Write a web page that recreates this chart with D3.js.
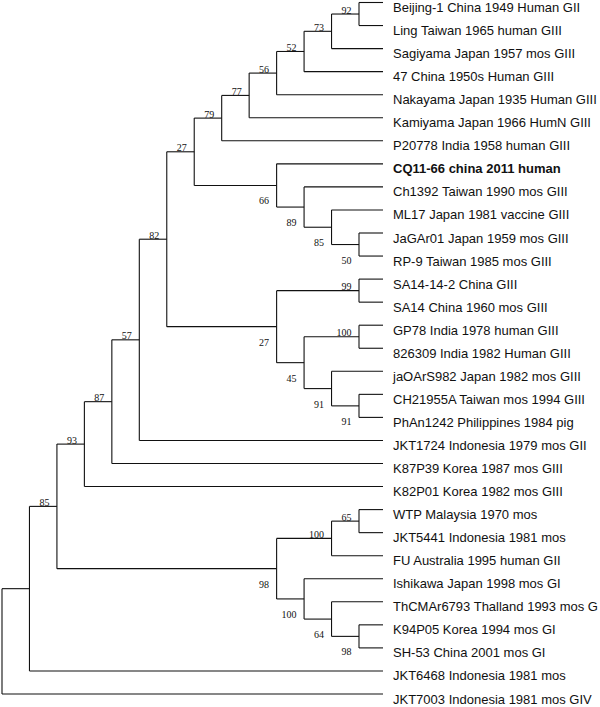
<!DOCTYPE html>
<html>
<head>
<meta charset="utf-8">
<script src="https://cdn.jsdelivr.net/npm/d3@7"></script>
<style>
html,body{margin:0;padding:0;background:#fff;overflow:hidden;}
svg{display:block;}
</style>
</head>
<body>
<svg id="chart" width="600" height="707"></svg>
<script>
// Tree rows in pre-order: name, parent, bootstrap support
const nodeNames = [
  "root","q","p","r","s","t","u","v","x","z","aa","ab","ac","ad",
  "Beijing-1 China 1949 Human GII","Ling Taiwan 1965 human GIII",
  "Sagiyama Japan 1957 mos GIII","47 China 1950s Human GIII",
  "Nakayama Japan 1935 Human GIII","Kamiyama Japan 1966 HumN GIII",
  "P20778 India 1958 human GIII",
  "y","CQ11-66 china 2011 human","ae","Ch1392 Taiwan 1990 mos GIII",
  "af","ML17 Japan 1981 vaccine GIII","ag","JaGAr01 Japan 1959 mos GIII","RP-9 Taiwan 1985 mos GIII",
  "w","ah","SA14-14-2 China GIII","SA14 China 1960 mos GIII",
  "ai","aj","GP78 India 1978 human GIII","826309 India 1982 Human GIII",
  "ak","jaOArS982 Japan 1982 mos GIII","al","CH21955A Taiwan mos 1994 GIII","PhAn1242 Philippines 1984 pig",
  "JKT1724 Indonesia 1979 mos GII","K87P39 Korea 1987 mos GIII","K82P01 Korea 1982 mos GIII",
  "n98","am","ao","WTP Malaysia 1970 mos","JKT5441 Indonesia 1981 mos","FU Australia 1995 human GII",
  "an","Ishikawa Japan 1998 mos GI","ap","ThCMAr6793 Thalland 1993 mos G",
  "aq","K94P05 Korea 1994 mos GI","SH-53 China 2001 mos GI",
  "JKT6468 Indonesia 1981 mos","JKT7003 Indonesia 1981 mos GIV"
];
const nodeParents = [
  "","root","q","p","r","s","t","u","v","x","z","aa","ab","ac",
  "ad","ad",
  "ac","ab",
  "aa","z",
  "x",
  "v","y","y","ae",
  "ae","af","af","ag","ag",
  "u","w","ah","ah",
  "w","ai","aj","aj",
  "ai","ak","ak","al","al",
  "t","s","r",
  "p","n98","am","ao","ao","am",
  "n98","an","an","ap",
  "ap","aq","aq",
  "q","root"
];
const nodeSupport = [
  null,null,85,93,87,57,82,27,79,77,56,52,73,92,
  null,null,
  null,null,
  null,null,
  null,
  66,null,89,null,
  85,null,50,null,null,
  27,99,null,null,
  45,100,null,null,
  91,null,91,null,null,
  null,null,null,
  98,100,65,null,null,null,
  100,null,64,null,
  98,null,null,
  null,null
];
const boldNames = ["CQ11-66 china 2011 human"];

const rows = nodeNames.map((n, i) => ({name: n, parent: nodeParents[i], support: nodeSupport[i]}));
const root = d3.stratify().id(d => d.name).parentId(d => d.parent || null)(rows);

const leaves = root.leaves();
const x = d3.scaleLinear().domain([14, 1]).range([2, 359]);
const y = d3.scaleLinear().domain([0, leaves.length - 1]).range([2.5, 694]);
const leafEnd = 383;

leaves.forEach((l, i) => { l.py = y(i); l.px = leafEnd; });
root.eachAfter(n => {
  if (n.children) {
    n.px = x(n.height);
    n.py = (n.children[0].py + n.children[n.children.length - 1].py) / 2;
  }
});

const svg = d3.select("#chart");
const g = svg.append("g");
const stroke = "#111";

// vertical connectors
root.descendants().filter(n => n.children).forEach(n => {
  g.append("line")
    .attr("x1", n.px).attr("x2", n.px)
    .attr("y1", n.children[0].py).attr("y2", n.children[n.children.length - 1].py)
    .attr("stroke", stroke).attr("stroke-width", 1.1);
});
// horizontal branches
root.descendants().filter(n => n.parent).forEach(n => {
  g.append("line")
    .attr("x1", n.parent.px).attr("x2", n.px)
    .attr("y1", n.py).attr("y2", n.py)
    .attr("stroke", stroke).attr("stroke-width", 1.1);
});

// leaf labels
g.selectAll("text.leaf").data(leaves).join("text")
  .attr("class", "leaf")
  .attr("x", 393)
  .attr("y", d => d.py + 9.5)
  .attr("font-family", "'Liberation Sans', Arial, sans-serif")
  .attr("font-size", 13)
  .attr("font-weight", d => boldNames.includes(d.id) ? "bold" : "normal")
  .attr("fill", "#111")
  .text(d => d.id);

// bootstrap labels
const supported = root.descendants().filter(n => n.data.support != null && n.parent);
g.selectAll("text.bs").data(supported).join("text")
  .attr("class", "bs")
  .attr("text-anchor", "end")
  .attr("x", d => d.px - 7.5)
  .attr("y", d => {
    const isUpper = d.parent.children[0] === d;
    return isUpper ? d.py - 0.5 : d.py + 19;
  })
  .attr("font-family", "'Liberation Serif', 'Times New Roman', serif")
  .attr("font-size", 10)
  .attr("fill", "#111")
  .text(d => d.data.support);
</script>
</body>
</html>
